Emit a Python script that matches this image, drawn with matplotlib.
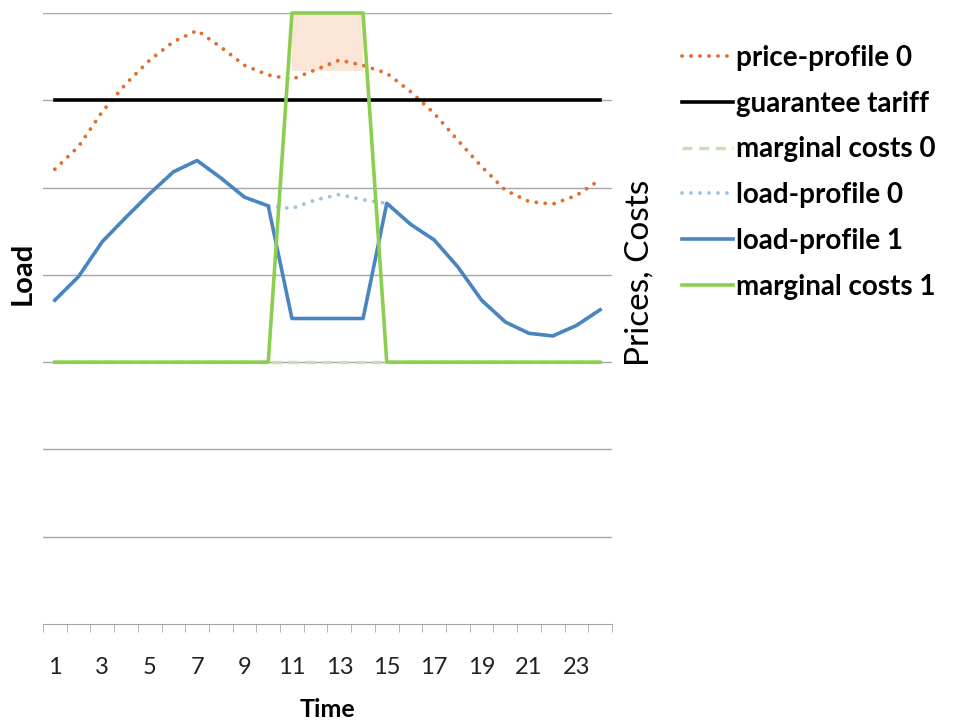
import numpy as np
import matplotlib.pyplot as plt

# hours 1..24
hours = np.arange(1, 25)

price_profile_0 = [5.21, 5.47, 5.87, 6.19, 6.46, 6.67, 6.80, 6.61, 6.40, 6.29,
                   6.24, 6.35, 6.46, 6.40, 6.31, 6.10, 5.85, 5.54, 5.24, 4.97,
                   4.84, 4.81, 4.91, 5.09]
guarantee_tariff = [6.0] * 24
marginal_costs_0 = [3.0] * 24
load_profile_0 = [3.71, 3.98, 4.38, 4.66, 4.93, 5.18, 5.31, 5.11, 4.89, 4.79,
                  4.76, 4.86, 4.92, 4.86, 4.82, 4.58, 4.40, 4.09, 3.71, 3.46,
                  3.33, 3.30, 3.42, 3.60]
load_profile_1 = [3.71, 3.98, 4.38, 4.66, 4.93, 5.18, 5.31, 5.11, 4.89, 4.79,
                  3.50, 3.50, 3.50, 3.50, 4.82, 4.58, 4.40, 4.09, 3.71, 3.46,
                  3.33, 3.30, 3.42, 3.60]
marginal_costs_1 = [3.0] * 10 + [7.0] * 4 + [3.0] * 10

# shaded area (hours 11..14)
area_hours = [11, 14]
area_low = [6.33, 6.33]
area_high = [7.0, 7.0]

tick_labels = [str(h) for h in range(1, 25, 2)]

plt.rcParams['font.family'] = ['Lato', 'DejaVu Sans']

fig = plt.figure(figsize=(9.57, 7.22), dpi=100)
ax = fig.add_axes([43 / 957, 98 / 722, 569 / 957, 611 / 722])

ax.fill_between(area_hours, area_low, area_high, color='#FBE5D6', lw=0, zorder=1)

dots = (0, (0.01, 2.3))
ax.plot(hours, price_profile_0, color='#E07030', lw=2.8, ls=dots,
        dash_capstyle='round', label='price-profile 0', zorder=3)
ax.plot(hours, guarantee_tariff, color='black', lw=2.6, label='guarantee tariff', zorder=3)
ax.plot(hours, marginal_costs_0, color='#C5E0B4', lw=2.4, ls=(0, (3, 2)),
        label='marginal costs 0', zorder=3)
ax.plot(hours, load_profile_0, color='#9DC3E6', lw=2.8, ls=dots,
        dash_capstyle='round', label='load-profile 0', zorder=3)
ax.plot(hours, load_profile_1, color='#4A85BF', lw=2.6, label='load-profile 1', zorder=4)
ax.plot(hours, marginal_costs_1, color='#8CCF50', lw=2.6, label='marginal costs 1',
        zorder=5, clip_on=False)

ax.set_xlim(0.5, 24.5)
ax.set_ylim(0, 7)
ax.set_yticks(np.arange(1, 8))
ax.yaxis.grid(True, color='#A6A6A6', lw=1)
ax.set_axisbelow(True)
ax.tick_params(axis='y', length=0, labelleft=False)

ax.set_xticks(range(1, 25, 2))
ax.set_xticklabels(tick_labels, fontsize=17, color='#222222')
ax.set_xticks(np.arange(0.5, 25, 1), minor=True)
ax.tick_params(axis='x', which='major', length=0, pad=24)
ax.tick_params(axis='x', which='minor', length=6, color='#A6A6A6', direction='out')

for s in ['top', 'left', 'right']:
    ax.spines[s].set_visible(False)
ax.spines['bottom'].set_color('#A6A6A6')

ax.set_xlabel('Time', fontsize=18, fontweight='bold', labelpad=14)
fig.text(23 / 957, 1 - 273 / 722, 'Load', rotation=90, fontsize=21, fontweight='bold',
         ha='center', va='center')
fig.text(640 / 957, 1 - 273 / 722, 'Prices, Costs', rotation=90, fontsize=24,
         ha='center', va='center')

fig.legend(loc='upper left', bbox_to_anchor=(657 / 957, 1 - 20 / 722), frameon=False,
           prop={'size': 20, 'weight': 'bold'}, handlelength=1.85, handletextpad=0.1,
           labelspacing=0.71)

fig.savefig('out.png', dpi=100)
